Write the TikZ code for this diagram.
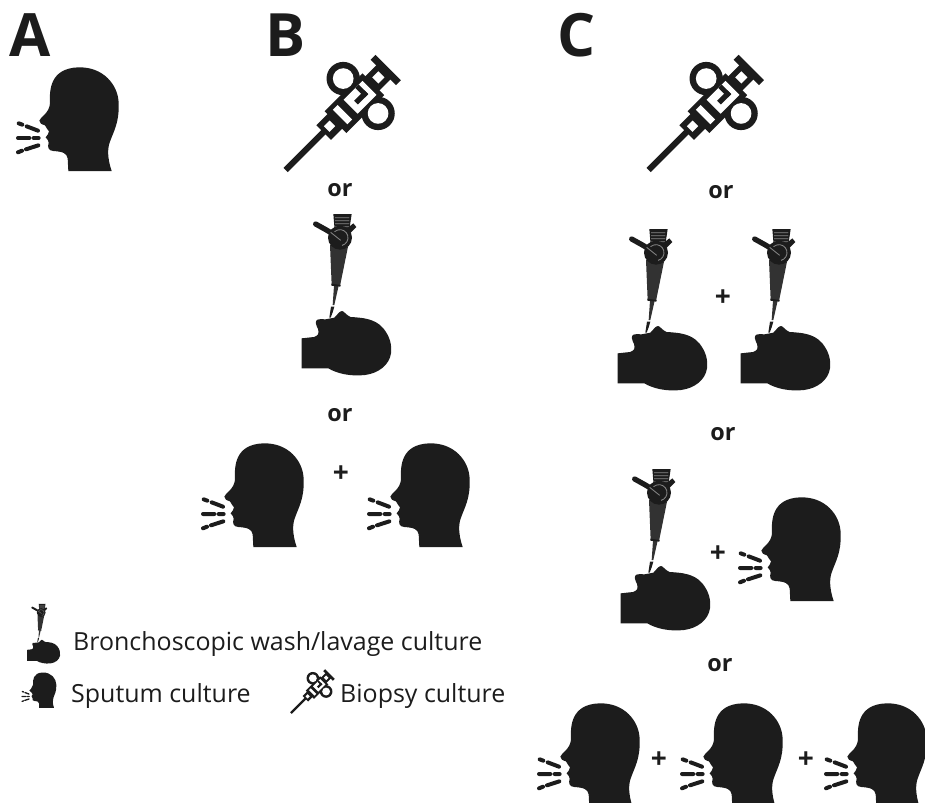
\documentclass[tikz,border=0pt]{standalone}
\usepackage{fontspec}
\usepackage{tikz}
\setmainfont{Open Sans}
\usetikzlibrary{arrows.meta,calc,positioning}
\definecolor{iconblack}{RGB}{28,28,28}
\definecolor{scopegrey}{RGB}{50,50,50}
\definecolor{scopeline}{RGB}{135,135,135}
\tikzset{
  panellabel/.style={font=\fontsize{51}{51}\selectfont\bfseries,text=iconblack,inner sep=0pt,anchor=base},
  orlabel/.style={font=\fontsize{20}{20}\selectfont\bfseries,text=iconblack,inner sep=0pt},
  pluslabel/.style={font=\fontsize{24}{24}\selectfont\bfseries,text=iconblack,inner sep=0pt},
  legendlabel/.style={font=\fontsize{21.3}{22}\selectfont,text=iconblack,inner sep=0pt,anchor=west},
  headicon/.pic={
    \begin{scope}[scale=#1/3]
      \fill[iconblack] (205,333)--(203,295) .. controls (200,280) and (190,275) .. (160,273)
        .. controls (145,272) and (142,262) .. (146,248)
        .. controls (148,242) and (140,238) .. (137,232)
        .. controls (140,225) and (148,222) .. (147,214)
        .. controls (145,205) and (135,205) .. (135,196)
        .. controls (125,193) and (118,190) .. (118,182)
        .. controls (120,172) and (148,160) .. (150,130)
        .. controls (148,90) and (150,25) .. (235,22)
        .. controls (310,20) and (355,75) .. (356,130)
        .. controls (358,190) and (340,215) .. (330,245)
        .. controls (322,265) and (322,295) .. (335,333)--cycle;
      \draw[iconblack,line cap=round,line width=#1*3.4pt]
        (56,190)--(67,194) (80,199)--(114,212)
        (54,234)--(88,234) (101,234)--(116,234)
        (54,277)--(66,272) (78,268)--(115,256);
    \end{scope}
  },
  syringeicon/.pic={
    \begin{scope}[scale=#1/3,rotate=45]
      \fill[iconblack] (0,-9)--(175,-9)--(175,9)--(0,9)--cycle;
      \fill[iconblack] (160,-30)--(215,-30)--(215,32)--(160,32)--cycle;
      \fill[iconblack] (207,-42)--(368,-42)--(368,50)--(207,50)--cycle;
      \fill[iconblack] (316,-72) circle (50);
      \fill[iconblack] (316,76) circle (50);
      \fill[white] (316,-72) circle (31);
      \fill[white] (316,76) circle (31);
      \fill[iconblack] (365,-30)--(416,-30)--(416,30)--(365,30)--cycle;
      \fill[iconblack] (414,-54)--(435,-54)--(435,54)--(414,54)--cycle;
      \fill[white] (380,-13)--(406,-13)--(406,13)--(380,13)--cycle;
      \fill[white] (174,-12)--(198,-12)--(198,12)--(174,12)--cycle;
      \fill[white] (228,-28)--(248,-28)--(248,34)--(228,34)--cycle;
      \fill[white] (272,-26)--(352,-26)--(352,33)--(272,33)--cycle;
      \fill[iconblack] (292,-2)--(336,-2)--(336,14)--(292,14)--cycle;
      \fill[iconblack] (322,-26)--(336,-26)--(336,14)--(322,14)--cycle;
    \end{scope}
  },
  scopeicon/.pic={
    \begin{scope}[scale=#1/3]
      % patient
      \fill[iconblack] (35,400)--(72,396) .. controls (85,392) and (88,385) .. (84,372)
        .. controls (78,360) and (74,348) .. (82,344)
        .. controls (95,340) and (105,345) .. (112,342)
        -- (133,338) .. controls (140,332) and (148,318) .. (156,318)
        .. controls (162,318) and (170,332) .. (182,336)
        .. controls (215,338) and (255,340) .. (280,370)
        .. controls (300,395) and (306,420) .. (303,445)
        .. controls (298,480) and (265,505) .. (225,510)
        .. controls (180,515) and (140,505) .. (115,490)--(35,490)--cycle;
      % insertion tube
      \fill[scopegrey] (132,242)--(146,242)--(133,300)--(128,300)--cycle;
      \fill[iconblack] (123,305)--(133,305)--(128,322)--(122,338)--(118,338)--cycle;
      % grip
      \fill[scopegrey] (125,240)--(150,243)--(174,125)--(120,120)--cycle;
      \fill[iconblack] (124,236)--(152,240)--(151,245)--(124,242)--cycle;
      % eyepiece
      \fill[iconblack] (130,27)--(185,27)--(176,88)--(135,88)--cycle;
      \foreach \stripey in {37,46,55,64,73}
        \fill[scopeline] (135,\stripey)--(178,\stripey)--(177,\stripey+2.5)--(135,\stripey+2.5)--cycle;
      \fill[iconblack] (172,70)--(190,55)--(199,66)--(180,85)--cycle;
      % control wheel
      \fill[iconblack] (150,98) circle (36);
      \draw[scopeline,line width=#1*0.7pt] (150,98) ++(75:24) arc[start angle=75,end angle=-150,radius=24];
      \draw[iconblack,line cap=round,line width=#1*4.5pt] (77,57) .. controls (100,70) and (130,85) .. (158,108);
      \draw[scopeline,line width=#1*0.7pt] (122,82)--(152,106);
    \end{scope}
  }
}
\begin{document}
\begin{tikzpicture}[x=0.03cm,y=-0.03cm,>=Stealth]
  \useasboundingbox (0,0) rectangle (925,802);
  \clip (0,0) rectangle (925,802);
  % panel letters
  \node[panellabel] (labelA) at (30.5,56) {A};
  \node[panellabel] (labelB) at (286,56) {B};
  \node[panellabel] (labelC) at (577,56) {C};
  % panel A
  \pic at (0,60) {headicon=1};
  % panel B
  \pic at (285.7,170) {syringeicon=1};
  \node[orlabel] (orB1) at (340,190) {or};
  \pic at (290,205) {scopeicon=1};
  \node[orlabel] (orB2) at (340,415) {or};
  \pic at (185,436) {headicon=1};
  \node[pluslabel] (plusB) at (341,474) {+};
  \pic at (351,436) {headicon=1};
  % panel C
  \pic at (648.7,170) {syringeicon=1};
  \node[orlabel] (orC1) at (721,192) {or};
  \pic at (606,220) {scopeicon=1};
  \node[pluslabel] (plusC1) at (723,298) {+};
  \pic at (729,220) {scopeicon=1};
  \node[orlabel] (orC2) at (723,434) {or};
  \pic at (609,460) {scopeicon=1};
  \node[pluslabel] (plusC2) at (718,554) {+};
  \pic at (722,490) {headicon=1};
  \node[orlabel] (orC3) at (720,665) {or};
  \pic at (521,696) {headicon=1};
  \node[pluslabel] (plusC3) at (659,760) {+};
  \pic at (664,696) {headicon=1};
  \node[pluslabel] (plusC4) at (806,760) {+};
  \pic at (808,696) {headicon=1};
  % legend
  \pic at (22.7,600.5) {scopeicon=0.37};
  \node[legendlabel] (legendscope) at (73,644) {Bronchoscopic wash/lavage culture};
  \pic at (16,670) {headicon=0.34};
  \node[legendlabel] (legendhead) at (71,696) {Sputum culture};
  \pic at (291,713) {syringeicon=0.38};
  \node[legendlabel] (legendsyringe) at (340,696) {Biopsy culture};
\end{tikzpicture}
\end{document}
